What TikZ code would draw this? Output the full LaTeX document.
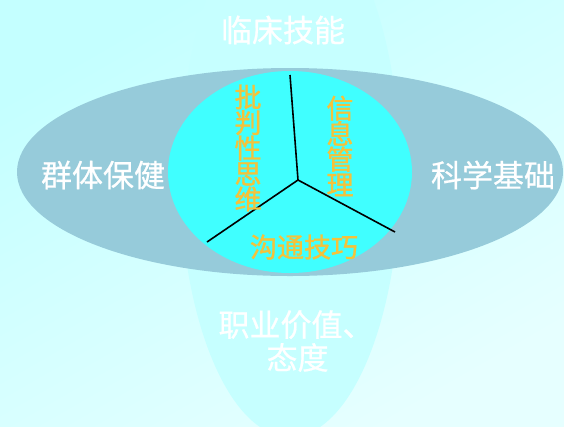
\documentclass[tikz,border=0pt]{standalone}
\usepackage{fontspec}
\setmainfont{Noto Sans CJK SC}
\newfontfamily\whitefont{Noto Sans CJK SC}[FakeBold=0.6]
\newfontfamily\goldfont{Noto Sans CJK SC}[FakeBold=1.2]
\definecolor{bgA}{HTML}{C4FFFF}
\definecolor{bgB}{HTML}{E6FFFF}
\definecolor{vell}{HTML}{C6FFFF}
\definecolor{hell}{HTML}{96CBDA}
\definecolor{core}{HTML}{40FFFF}
\definecolor{gold}{HTML}{F5C23A}
\tikzset{
  outer/.style={text=white, font=\whitefont\fontsize{31}{33}\selectfont, inner sep=0pt},
  inner/.style={text=gold, font=\goldfont\fontsize{27}{25.5}\selectfont, inner sep=0pt},
  spoke/.style={line width=1.6pt, black}
}
\begin{document}
\begin{tikzpicture}[x=1pt,y=-1pt]
\useasboundingbox (0,0) rectangle (564,426);
\shade[top color=bgA, bottom color=bgB, shading angle=30] (0,0) rectangle (564,426);
\fill[vell] (290,172) ellipse [x radius=110, y radius=265];
\fill[hell] (290,172) ellipse [x radius=273, y radius=104];
\fill[core] (290,172) ellipse [x radius=122, y radius=101];
\coordinate (c) at (298,180);
\coordinate (t) at (290,75);
\coordinate (l) at (207,242);
\coordinate (r) at (395,232);
\draw[spoke] (c) -- (t);
\draw[spoke] (c) -- (l);
\draw[spoke] (c) -- (r);
\node[outer] (n1) at (283,30) {临床技能};
\node[outer] (n2) at (103,175) {群体保健};
\node[outer] (n3) at (493,175) {科学基础};
\node[outer, align=left] (n4) at (296,341) {职业价值、\\\hspace*{1.55em}态度};
\node[inner, align=center] (m1) at (248,148) {批\\判\\性\\思\\维};
\node[inner, align=center] (m2) at (340,146) {信\\息\\管\\理};
\node[inner] (m3) at (304,247) {沟通技巧};
\end{tikzpicture}
\end{document}
